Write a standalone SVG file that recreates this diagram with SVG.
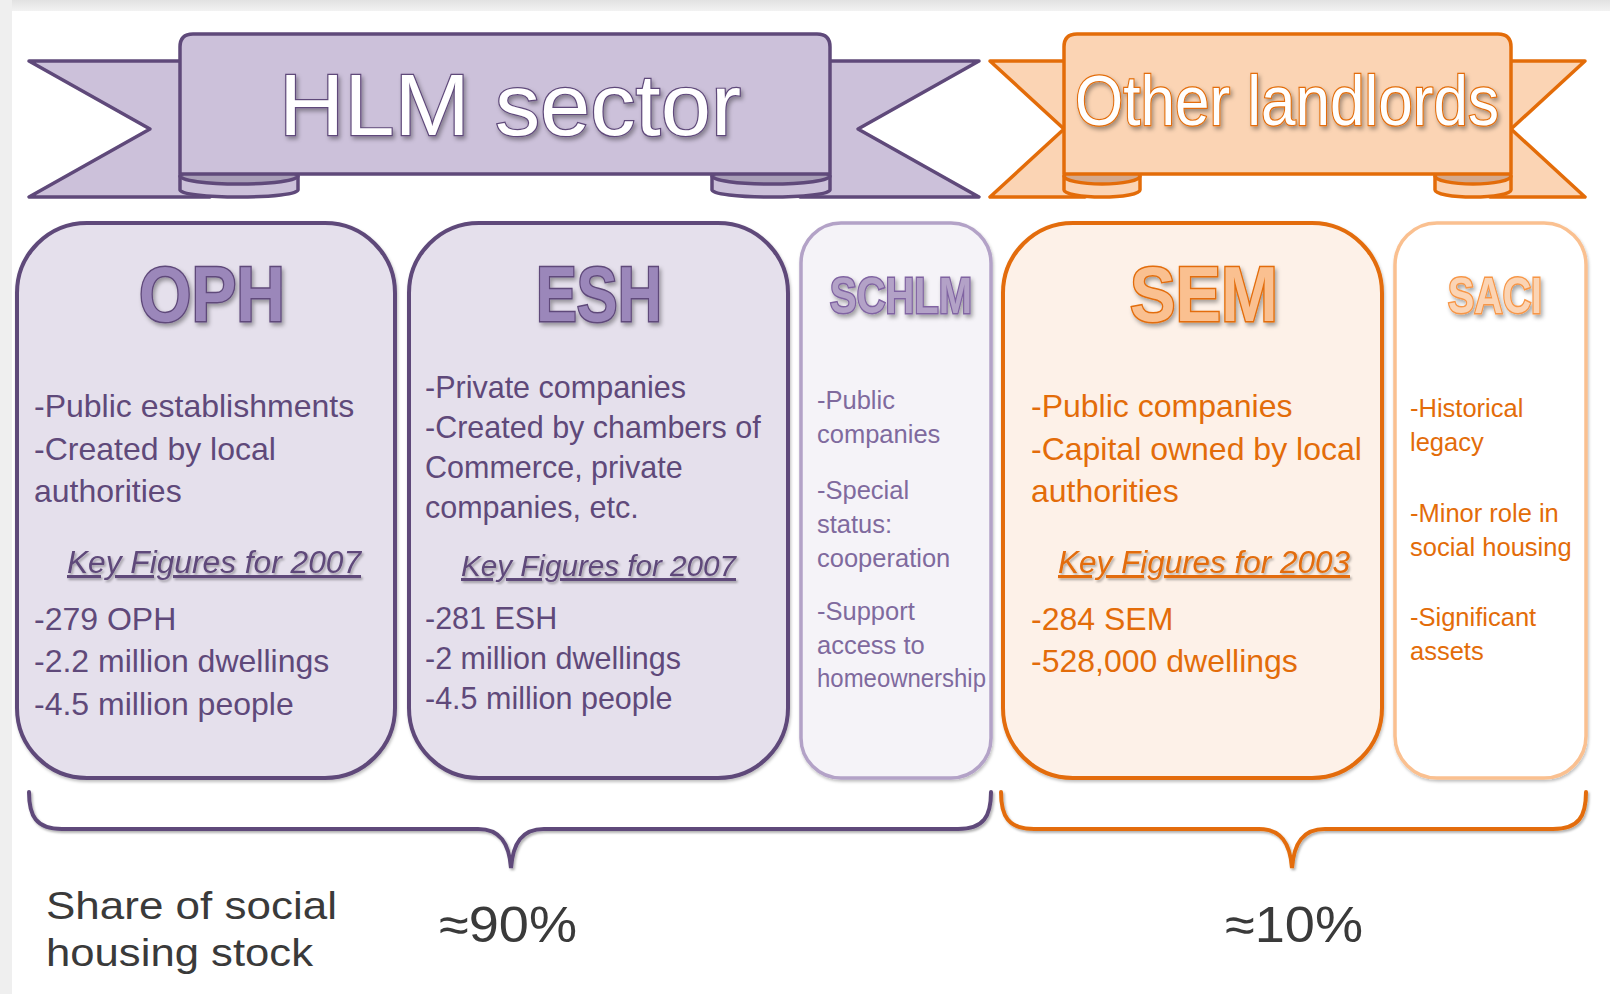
<svg xmlns="http://www.w3.org/2000/svg" width="1610" height="994" viewBox="0 0 1610 994">
<defs>
<filter id="sh" x="-10%" y="-20%" width="130%" height="160%"><feDropShadow dx="2" dy="3" stdDeviation="2" flood-color="#000" flood-opacity="0.35"/></filter>
<filter id="shs" x="-5%" y="-20%" width="115%" height="160%"><feDropShadow dx="1.5" dy="2" stdDeviation="1.2" flood-color="#000" flood-opacity="0.3"/></filter>
<filter id="shb" x="-5%" y="-5%" width="110%" height="115%"><feDropShadow dx="1" dy="2" stdDeviation="1.5" flood-color="#000" flood-opacity="0.25"/></filter>
<linearGradient id="gtop" x1="0" y1="0" x2="0" y2="1"><stop offset="0" stop-color="#e2e2e2"/><stop offset="1" stop-color="#f2f2f2"/></linearGradient>
</defs>
<style>
.pf{fill:#ccc1da;stroke:#5f497a;stroke-width:3.5;stroke-linejoin:round}
.pd{fill:#a99fb8;stroke:#5f497a;stroke-width:3.5}
.of{fill:#fbd4b4;stroke:#e36c09;stroke-width:3.5;stroke-linejoin:round}
.od{fill:#d4a98c;stroke:#e36c09;stroke-width:3.5}
.head{font-family:"Liberation Sans",Arial,sans-serif;fill:#fff;stroke-width:2.4;paint-order:stroke}
.t{font-family:"Liberation Sans",Arial,sans-serif;font-weight:bold;stroke-width:3;paint-order:stroke}
.b{font-family:"Liberation Sans",Arial,sans-serif}
.pu{fill:#5f497a}
.lp{fill:#7f6a9e}
.or{fill:#e36c09}
.kf{font-family:"Liberation Sans",Arial,sans-serif;font-style:italic;text-decoration:underline}
.hw{font-family:"Liberation Sans",Arial,sans-serif;fill:#3a3a3a}
.brace{fill:none;stroke-width:4;stroke-linecap:round}
</style>
<rect x="0" y="0" width="1610" height="994" fill="#fff"/>
<rect x="0" y="0" width="1610" height="11" fill="url(#gtop)"/>
<rect x="0" y="0" width="12" height="994" fill="#efefef"/>

<g id="hlm-ribbon">
<path class="pf" d="M186,61 L29,61 L150,129 L29,197 L210,197 L210,120 Z"/>
<path class="pf" d="M824,61 L979,61 L858,129 L979,197 L800,197 L800,120 Z"/>
<path class="pf" d="M180,176 L180,190 A59,7 0 0,0 298,190 L298,176 Z"/>
<ellipse class="pd" cx="239" cy="176" rx="59" ry="8"/>
<path class="pf" d="M712,176 L712,190 A59,7 0 0,0 830,190 L830,176 Z"/>
<ellipse class="pd" cx="771" cy="176" rx="59" ry="8"/>
<path class="pf" d="M180,174 L180,47 Q180,34 193,34 L817,34 Q830,34 830,47 L830,174 Z"/>
<text class="head" x="279" y="135" font-size="88" textLength="462" lengthAdjust="spacingAndGlyphs" stroke="#5f497a" filter="url(#sh)">HLM sector</text>
</g>

<g id="other-ribbon">
<path class="of" d="M1070,61 L990,61 L1064,129 L990,197 L1085,197 L1085,120 Z"/>
<path class="of" d="M1505,61 L1585,61 L1511,129 L1585,197 L1490,197 L1490,120 Z"/>
<path class="of" d="M1064,176 L1064,190 A38,7 0 0,0 1140,190 L1140,176 Z"/>
<ellipse class="od" cx="1102" cy="176" rx="38" ry="8"/>
<path class="of" d="M1435,176 L1435,190 A38,7 0 0,0 1511,190 L1511,176 Z"/>
<ellipse class="od" cx="1473" cy="176" rx="38" ry="8"/>
<path class="of" d="M1064,174 L1064,47 Q1064,34 1077,34 L1498,34 Q1511,34 1511,47 L1511,174 Z"/>
<text class="head" x="1075" y="125" font-size="70" textLength="424" lengthAdjust="spacingAndGlyphs" stroke="#e36c09" filter="url(#sh)">Other landlords</text>
</g>

<g id="oph">
<rect x="17" y="223" width="378" height="555" rx="70" fill="#e5e0ec" stroke="#5f497a" stroke-width="4" filter="url(#shb)"/>
<text class="t" x="139" y="321" font-size="78" textLength="146" lengthAdjust="spacingAndGlyphs" fill="#9b87ba" stroke="#5f497a" filter="url(#sh)">OPH</text>
<g class="b pu" font-size="32">
<text x="34" y="417">-Public establishments</text>
<text x="34" y="460">-Created by local</text>
<text x="34" y="502">authorities</text>
<text x="34" y="630">-279 OPH</text>
<text x="34" y="672">-2.2 million dwellings</text>
<text x="34" y="715">-4.5 million people</text>
</g>
<text class="kf pu" x="67" y="573" font-size="31" textLength="294" lengthAdjust="spacingAndGlyphs" filter="url(#shs)">Key Figures for 2007</text>
</g>

<g id="esh">
<rect x="409" y="223" width="379" height="555" rx="70" fill="#e5e0ec" stroke="#5f497a" stroke-width="4" filter="url(#shb)"/>
<text class="t" x="536" y="321" font-size="78" textLength="126" lengthAdjust="spacingAndGlyphs" fill="#9b87ba" stroke="#5f497a" filter="url(#sh)">ESH</text>
<g class="b pu" font-size="30.5">
<text x="425" y="398">-Private companies</text>
<text x="425" y="438">-Created by chambers of</text>
<text x="425" y="478">Commerce, private</text>
<text x="425" y="518">companies, etc.</text>
<text x="425" y="629">-281 ESH</text>
<text x="425" y="669">-2 million dwellings</text>
<text x="425" y="709">-4.5 million people</text>
</g>
<text class="kf pu" x="461" y="576" font-size="30" textLength="275" lengthAdjust="spacingAndGlyphs" filter="url(#shs)">Key Figures for 2007</text>
</g>

<g id="schlm">
<rect x="801" y="223" width="190" height="555" rx="40" fill="#f5f3f8" stroke="#b3a2c7" stroke-width="3.5" filter="url(#shb)"/>
<text class="t" x="830" y="313" font-size="50" textLength="142" lengthAdjust="spacingAndGlyphs" fill="#b3a2c7" stroke="#8064a2" stroke-width="2.5" filter="url(#sh)">SCHLM</text>
<g class="b lp" font-size="25.5">
<text x="817" y="409">-Public</text>
<text x="817" y="443">companies</text>
<text x="817" y="499">-Special</text>
<text x="817" y="533">status:</text>
<text x="817" y="567">cooperation</text>
<text x="817" y="620">-Support</text>
<text x="817" y="654">access to</text>
<text x="817" y="687" textLength="169" lengthAdjust="spacingAndGlyphs">homeownership</text>
</g>
</g>

<g id="sem">
<rect x="1003" y="223" width="379" height="555" rx="70" fill="#fdf1e8" stroke="#e36c09" stroke-width="4" filter="url(#shb)"/>
<text class="t" x="1130" y="321" font-size="78" textLength="148" lengthAdjust="spacingAndGlyphs" fill="#fac090" stroke="#e36c09" filter="url(#sh)">SEM</text>
<g class="b or" font-size="32">
<text x="1031" y="417">-Public companies</text>
<text x="1031" y="460">-Capital owned by local</text>
<text x="1031" y="502">authorities</text>
<text x="1031" y="630">-284 SEM</text>
<text x="1031" y="672">-528,000 dwellings</text>
</g>
<text class="kf or" x="1058" y="573" font-size="31" textLength="292" lengthAdjust="spacingAndGlyphs" filter="url(#shs)">Key Figures for 2003</text>
</g>

<g id="saci">
<rect x="1395" y="223" width="191" height="555" rx="42" fill="#ffffff" stroke="#fac090" stroke-width="3.5" filter="url(#shb)"/>
<text class="t" x="1448" y="313" font-size="50" textLength="94" lengthAdjust="spacingAndGlyphs" fill="#fbd4b4" stroke="#f79646" stroke-width="2.5" filter="url(#sh)">SACI</text>
<g class="b or" font-size="25.5">
<text x="1410" y="417">-Historical</text>
<text x="1410" y="451">legacy</text>
<text x="1410" y="522">-Minor role in</text>
<text x="1410" y="556">social housing</text>
<text x="1410" y="626">-Significant</text>
<text x="1410" y="660">assets</text>
</g>
</g>

<g id="connectors">
<path class="brace" stroke="#5f497a" filter="url(#shs)" d="M29,792 C29,816 36,829 62,829 L478,829 C500,829 509,843 511,868 C513,843 522,829 544,829 L958,829 C984,829 991,816 991,792"/>
<path class="brace" stroke="#e36c09" filter="url(#shs)" d="M1001,792 C1001,816 1008,829 1034,829 L1259,829 C1281,829 1290,843 1292,868 C1294,843 1303,829 1325,829 L1553,829 C1579,829 1586,816 1586,792"/>
</g>

<g id="footer">
<text class="hw" x="46" y="919" font-size="39" textLength="291" lengthAdjust="spacingAndGlyphs">Share of social</text>
<text class="hw" x="46" y="966" font-size="39" textLength="267" lengthAdjust="spacingAndGlyphs">housing stock</text>
<text class="hw" x="439" y="942" font-size="50" textLength="138" lengthAdjust="spacingAndGlyphs">≈90%</text>
<text class="hw" x="1225" y="942" font-size="50" textLength="138" lengthAdjust="spacingAndGlyphs">≈10%</text>
</g>
</svg>
